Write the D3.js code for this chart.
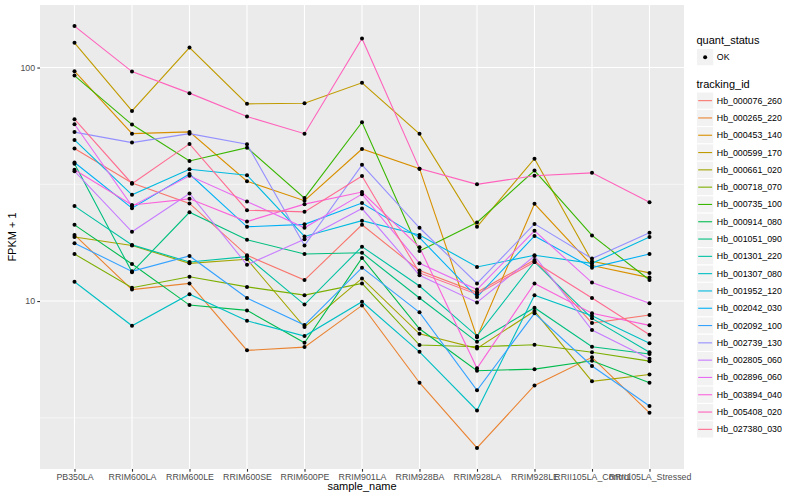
<!DOCTYPE html>
<html>
<head>
<meta charset="utf-8">
<script src="https://cdn.jsdelivr.net/npm/d3@7/dist/d3.min.js"></script>
<style>
body { margin: 0; background: #ffffff; }
text { font-family: "Liberation Sans", Arial, Helvetica, sans-serif; }
</style>
</head>
<body>
<div id="chart"></div>
<script>
// ##################################
// FPKM per sample, one line per tracking_id
// ##################################

const samples = ["PB350LA", "RRIM600LA", "RRIM600LE", "RRIM600SE", "RRIM600PE", "RRIM901LA",
                 "RRIM928BA", "RRIM928LA", "RRIM928LE", "RRII105LA_Control", "RRII105LA_Stressed"];

const trackingIds = ["Hb_000076_260", "Hb_000265_220", "Hb_000453_140", "Hb_000599_170", "Hb_000661_020",
                     "Hb_000718_070", "Hb_000735_100", "Hb_000914_080", "Hb_001051_090", "Hb_001301_220",
                     "Hb_001307_080", "Hb_001952_120", "Hb_002042_030", "Hb_002092_100", "Hb_002739_130",
                     "Hb_002805_060", "Hb_002896_060", "Hb_003894_040", "Hb_005408_020", "Hb_027380_030"];

// FPKM + 1, one row per tracking_id (same order), one value per sample
const fpkm = [
    [45.0, 32.0, 26.2, 15.7, 12.3, 21.2, 13.5, 10.9, 15.0, 8.05, 8.71],
    [19.2, 11.2, 11.9, 6.15, 6.35, 9.58, 4.47, 2.35, 4.35, 5.74, 3.32],
    [96.5, 52.1, 53.0, 32.6, 26.9, 44.8, 36.9, 6.99, 26.1, 14.2, 12.6],
    [127.6, 65.2, 121.8, 69.9, 70.3, 86.0, 52.0, 20.8, 40.7, 14.8, 13.2],
    [18.8, 17.3, 14.5, 15.1, 7.74, 12.5, 7.24, 6.27, 9.06, 4.53, 4.85],
    [15.9, 11.4, 12.7, 11.5, 10.6, 11.9, 6.48, 6.37, 6.50, 6.04, 5.53],
    [92.4, 57.0, 39.8, 45.4, 27.6, 58.3, 16.4, 21.7, 36.2, 19.1, 12.3],
    [21.2, 14.4, 9.61, 9.12, 6.63, 15.3, 7.61, 5.03, 5.11, 5.55, 4.47],
    [38.7, 13.3, 24.0, 18.3, 15.9, 16.1, 10.3, 6.69, 9.36, 6.37, 5.93],
    [25.5, 17.4, 14.7, 15.5, 9.66, 17.1, 11.6, 7.08, 14.7, 8.43, 6.03],
    [12.1, 7.84, 10.7, 8.23, 7.08, 9.93, 6.06, 3.40, 10.6, 8.65, 6.59],
    [49.0, 28.5, 36.7, 34.6, 18.9, 22.1, 19.2, 14.0, 15.7, 14.5, 18.8],
    [39.2, 25.0, 35.0, 20.8, 21.3, 26.3, 18.7, 10.4, 19.0, 13.9, 15.9],
    [17.7, 13.4, 15.6, 10.3, 7.89, 13.9, 8.95, 4.15, 8.86, 5.27, 3.55],
    [52.9, 47.7, 52.1, 46.9, 17.3, 38.3, 20.6, 11.9, 21.4, 15.2, 19.6],
    [36.0, 19.8, 28.9, 14.3, 18.4, 24.9, 12.9, 9.87, 15.6, 7.51, 5.66],
    [57.2, 25.5, 34.4, 26.7, 20.6, 28.7, 14.5, 11.2, 20.0, 12.0, 9.78],
    [36.5, 25.8, 27.4, 21.9, 26.0, 29.3, 17.0, 5.15, 11.9, 8.86, 7.87],
    [150.5, 96.1, 77.7, 61.7, 52.1, 133.1, 36.9, 31.6, 34.4, 35.4, 26.5],
    [60.1, 31.8, 47.1, 24.5, 24.1, 34.3, 13.2, 10.7, 14.7, 10.3, 7.17]
];

const quantStatus = ["OK"];
const yTicks = [10, 100];
const yMinorTicks = [3.1623, 31.623];

// ggplot default hue palette for 20 groups
const palette = ["#F8766D", "#EA8331", "#D89000", "#C09B00", "#A3A500", "#7CAE00", "#39B600",
                 "#00BB4E", "#00BF7D", "#00C1A3", "#00BFC4", "#00BAE0", "#00B0F6", "#35A2FF",
                 "#9590FF", "#C77CFF", "#E76BF3", "#FA62DB", "#FF62BC", "#FF6C91"];

const w = 800;
const h = 500;
const panel_left = 40;
const panel_right = 684;
const panel_top = 5;
const panel_bottom = 469;

let svg = d3.select("#chart")
            .append("svg")
            .attr("width", w)
            .attr("height", h);

svg.append("rect")
    .attr("width", w).attr("height", h)
    .attr("fill", "#ffffff");

// Scales (log axis expanded by 5% like ggplot)
const allValues = fpkm.flat();
const logMin = Math.log10(d3.min(allValues));
const logMax = Math.log10(d3.max(allValues));
const pad = (logMax - logMin) * 0.05;

const yScale = d3.scaleLog()
                .domain([Math.pow(10, logMin - pad), Math.pow(10, logMax + pad)])
                .range([panel_bottom, panel_top]);

const xScale = d3.scalePoint()
                .domain(samples)
                .range([panel_left, panel_right])
                .padding(0.6);

const colorScale = d3.scaleOrdinal()
                .domain(trackingIds)
                .range(palette);

// Panel background + grid
svg.append("rect")
    .attr("x", panel_left)
    .attr("y", panel_top)
    .attr("width", panel_right - panel_left)
    .attr("height", panel_bottom - panel_top)
    .attr("fill", "#EBEBEB");

svg.append("g")
    .selectAll("line")
    .data(yMinorTicks)
    .enter()
    .append("line")
        .attr("x1", panel_left).attr("x2", panel_right)
        .attr("y1", d => yScale(d)).attr("y2", d => yScale(d))
        .attr("stroke", "#ffffff")
        .attr("stroke-width", 0.55);

svg.append("g")
    .selectAll("line")
    .data(yTicks)
    .enter()
    .append("line")
        .attr("x1", panel_left).attr("x2", panel_right)
        .attr("y1", d => yScale(d)).attr("y2", d => yScale(d))
        .attr("stroke", "#ffffff")
        .attr("stroke-width", 1.1);

svg.append("g")
    .selectAll("line")
    .data(samples)
    .enter()
    .append("line")
        .attr("x1", d => xScale(d)).attr("x2", d => xScale(d))
        .attr("y1", panel_top).attr("y2", panel_bottom)
        .attr("stroke", "#ffffff")
        .attr("stroke-width", 1.1);

// Lines
const line = d3.line()
                .x((d, i) => xScale(samples[i]))
                .y(d => yScale(d));

svg.append("g")
    .selectAll("path")
    .data(fpkm)
    .enter()
    .append("path")
        .attr("d", d => line(d))
        .attr("fill", "none")
        .attr("stroke", (d, i) => colorScale(trackingIds[i]))
        .attr("stroke-width", 1.1);

// Points
const points = [];
fpkm.forEach((row, i) => {
    row.forEach((v, j) => points.push({"sample": samples[j], "value": v}));
});

svg.append("g")
    .selectAll("circle")
    .data(points)
    .enter()
    .append("circle")
        .attr("cx", d => xScale(d["sample"]))
        .attr("cy", d => yScale(d["value"]))
        .attr("r", 2)
        .attr("fill", "#000000");

// Axes
const xAxis = d3.axisBottom(xScale).tickSize(2.7).tickPadding(2.5);
const gx = svg.append("g")
    .attr("transform", "translate(0," + panel_bottom + ")")
    .call(xAxis);

const yAxis = d3.axisLeft(yScale)
                .tickValues(yTicks)
                .tickFormat(d3.format("d"))
                .tickSize(2.7)
                .tickPadding(2.2);
const gy = svg.append("g")
    .attr("transform", "translate(" + panel_left + ",0)")
    .call(yAxis);

[gx, gy].forEach(g => {
    g.select(".domain").remove();
    g.selectAll(".tick line").attr("stroke", "#333333").attr("stroke-width", 1.1);
    g.selectAll(".tick text")
        .attr("fill", "#4D4D4D")
        .attr("font-size", 8.8)
        .attr("font-family", "Liberation Sans, Arial, Helvetica, sans-serif");
});

// Axis titles
svg.append("text")
    .attr("text-anchor", "middle")
    .attr("x", (panel_left + panel_right) / 2)
    .attr("y", 490)
    .attr("font-size", 11)
    .text("sample_name");

svg.append("text")
    .attr("text-anchor", "middle")
    .attr("x", -(panel_top + panel_bottom) / 2)
    .attr("y", 16)
    .attr("transform", "rotate(-90)")
    .attr("font-size", 11)
    .text("FPKM + 1");

// Legend: quant_status
const legend_x = 696.5;
const key_size = 17.3;

svg.append("text")
    .attr("x", legend_x)
    .attr("y", 44)
    .attr("font-size", 11)
    .text("quant_status");

const qs = svg.append("g")
    .selectAll("g")
    .data(quantStatus)
    .enter()
    .append("g")
        .attr("transform", (d, i) => "translate(" + legend_x + "," + (48.5 + i * key_size) + ")");

qs.append("rect")
    .attr("width", key_size).attr("height", key_size)
    .attr("fill", "#F2F2F2").attr("stroke", "#ffffff");
qs.append("circle")
    .attr("cx", key_size / 2).attr("cy", key_size / 2)
    .attr("r", 2).attr("fill", "#000000");
qs.append("text")
    .attr("x", key_size + 3)
    .attr("y", key_size / 2 + 3)
    .attr("font-size", 8.8)
    .text(d => d);

// Legend: tracking_id
svg.append("text")
    .attr("x", legend_x)
    .attr("y", 87.5)
    .attr("font-size", 11)
    .text("tracking_id");

const keys = svg.append("g")
    .selectAll("g")
    .data(trackingIds)
    .enter()
    .append("g")
        .attr("transform", (d, i) => "translate(" + legend_x + "," + (92 + i * key_size) + ")");

keys.append("rect")
    .attr("width", key_size).attr("height", key_size)
    .attr("fill", "#F2F2F2").attr("stroke", "#ffffff");
keys.append("line")
    .attr("x1", 1.7).attr("x2", key_size - 1.7)
    .attr("y1", key_size / 2).attr("y2", key_size / 2)
    .attr("stroke", d => colorScale(d))
    .attr("stroke-width", 1.1);
keys.append("text")
    .attr("x", key_size + 3)
    .attr("y", key_size / 2 + 3)
    .attr("font-size", 8.8)
    .text(d => d);
</script>
</body>
</html>
